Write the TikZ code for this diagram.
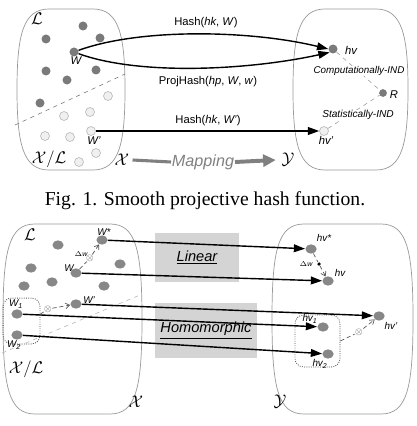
\documentclass[tikz,border=0pt]{standalone}
\usepackage{fontspec}
\setmainfont{Liberation Serif}
\setsansfont{Liberation Sans}
\usetikzlibrary{arrows.meta,shapes.geometric}

\begin{document}
\begin{tikzpicture}[x=0.025cm,y=-0.025cm,>={Triangle[length=8pt,width=5.5pt]},
 font=\sffamily\itshape\fontsize{8}{9}\selectfont,
 shp/.style={draw=black!40,line width=0.5pt},
 dk/.style={circle,fill=black!52,inner sep=0pt,minimum size=6.4pt},
 lt/.style={circle,draw=black!30,fill=black!6,inner sep=0pt,minimum size=6.4pt},
 bd/.style={ellipse,fill=black!47,inner sep=0pt,minimum width=8pt,minimum height=6.6pt},
 lab/.style={inner sep=0.5pt},
 cal/.style={inner sep=0pt,font=\fontsize{13}{13}\selectfont},
 hsh/.style={->,line width=1pt},
 ind/.style={dashed,black!40,line width=0.4pt},
 dsh/.style={densely dashed,black!65,line width=0.5pt},
 grp/.style={draw=black!70,densely dotted,rounded corners=6pt,line width=0.6pt,inner sep=0pt},
 box/.style={fill=black!17,inner sep=0pt,font=\sffamily\itshape\fontsize{10.4}{11}\selectfont},
 sm/.style={lab,font=\sffamily\itshape\fontsize{7}{8}\selectfont},
 ox/.style={inner sep=0pt,text=black!60,font=\fontsize{6}{6}\selectfont}]
\useasboundingbox (0,0) rectangle (416,426);
\foreach \l/\r/\t/\b in {17/125/9/170,293/408/9/170,3/142/224/414,272/413/224/414}
 \draw[shp] ({\l+32},\t) -- ({\r-32},\t) .. controls ({\r-6},\t) and (\r,{\t+26}) .. (\r,{(\t+\b)/2})
  .. controls (\r,{\b-26}) and ({\r-6},\b) .. ({\r-32},\b) -- ({\l+32},\b)
  .. controls ({\l+6},\b) and (\l,{\b-26}) .. (\l,{(\t+\b)/2}) .. controls (\l,{\t+26}) and ({\l+6},\t) .. cycle;

\draw[dashed,black!55,line width=0.4pt] (15,125) -- (125,74);
\foreach \p [count=\i] in {(83,26),(46,39),(100,38),(46,71),(96,70),(67,80),(40,103)}
 \node[dk] (ta\i) at \p {};
\foreach \p [count=\i] in {(108,96),(64,116),(90,112),(45,136),(70,137),(79,162),(96,153)}
 \node[lt] (tb\i) at \p {};
\node[dk] (W) at (74,52) {};
\node[lt] (Wp) at (91,131) {};
\node[dk] (hv) at (333,49) {};
\node[dk,minimum size=5.5pt] (R) at (383,93) {};
\node[lt] (hvp) at (324,131) {};

\node[cal] (L) at (37,19) {$\mathcal{L}$};
\node[lab] (wl) at (76,61) {W};
\node[lab] (wpl) at (94,141) {W'};
\node[cal] (XL) at (49,159) {$\mathcal{X}/\mathcal{L}$};
\node[cal] (X) at (122,160) {$\mathcal{X}$};
\node[cal] (Y) at (288,160) {$\mathcal{Y}$};
\node[lab,text=black!50,font=\sffamily\itshape\fontsize{11.5}{12}\selectfont] (map) at (203,162) {Mapping};
\draw[black!50,line width=2.2pt] (X.east) ++(3,0) -- (map.west);
\draw[black!50,line width=2.8pt,-{Triangle[length=9pt,width=8.5pt]}] (map.east) -- ([xshift=-4]Y.west);
\node[lab] (hvl) at (351,50) {hv};
\node[lab] (Rl) at (394,95) {R};
\node[lab] (hvpl) at (326,140) {hv'};

\draw[hsh] (W) .. controls (140,28) and (250,30) .. (hv.west);
\draw[hsh] (W) .. controls (140,76) and (250,70) .. (hv.south west);
\draw[hsh] (Wp) -- (hvp);
\node[lab] at (206,23) {\upshape Hash(\textit{hk}, \textit{W})};
\node[lab] at (208,82) {\upshape ProjHash(\textit{hp}, \textit{W}, \textit{w})};
\node[lab] at (208,121) {\upshape Hash(\textit{hk}, \textit{W'})};
\draw[ind] (hv) -- (R);
\draw[ind] (hvp) -- (R);
\node[lab,fill=white,font=\sffamily\itshape\fontsize{7}{8}\selectfont] (ci) at (359,71) {Computationally-IND};
\node[lab,fill=white,font=\sffamily\itshape\fontsize{7.2}{8}\selectfont] (si) at (358,115) {Statistically-IND};

\node[font=\rmfamily\upshape\fontsize{14}{16}\selectfont] (cap) at (205,201) {Fig. 1. Smooth projective hash function.};

\node[box,minimum width=59.6pt,minimum height=34.7pt] (lin) at (197,257.5) {\underline{Linear}};
\node[box,minimum width=72.3pt,minimum height=39pt] (hom) at (206,330.5) {\underline{Homomorphic}};
\draw[dashed,black!30,line width=0.4pt] (2,353) -- (140,295);
\foreach \p [count=\i] in {(58,245),(31,268),(120,264),(24,286),(52,282),(104,286)}
 \node[bd] (ba\i) at \p {};
\node[bd] (bW) at (76,273) {};
\node[bd] (bWs) at (102,240) {};
\node[bd] (bWp) at (76,304) {};
\node[bd] (bW1) at (17,314) {};
\node[bd] (bW2) at (17,335) {};
\node[bd] (bhvs) at (311,249) {};
\node[bd] (bhv) at (328,281) {};
\node[bd] (bhvp) at (379,316) {};
\node[bd] (bhv1) at (323,327) {};
\node[bd] (bhv2) at (328,354) {};
\node[grp,minimum width=26.2pt,minimum height=32.6pt] (g1) at (21.5,321) {};
\node[grp,minimum width=31.9pt,minimum height=36.9pt] (g2) at (317.5,341) {};

\node[cal] (bL) at (30,235) {$\mathcal{L}$};
\node[cal] (bXL) at (26,369) {$\mathcal{X}/\mathcal{L}$};
\node[cal] (bX) at (136,402) {$\mathcal{X}$};
\node[cal] (bY) at (280,402) {$\mathcal{Y}$};
\node[sm] (lW) at (69,268) {W};
\node[sm] (lWs) at (104,232) {W*};
\node[sm] (lWp) at (89,300) {W'};
\node[sm] (lW1) at (16,304) {W\textsubscript{1}};
\node[sm] (lW2) at (14,345) {W\textsubscript{2}};
\node[sm] (lhvs) at (324,238) {hv*};
\node[sm] (lhv) at (340,273) {hv};
\node[sm] (lhvp) at (391,326) {hv'};
\node[sm] (lhv1) at (310,319) {hv\textsubscript{1}};
\node[sm] (lhv2) at (320,364) {hv\textsubscript{2}};
\node[lab,font=\sffamily\itshape\fontsize{5}{5}\selectfont] (dwl) at (81,254) {$\Delta$w};
\node[lab,font=\sffamily\itshape\fontsize{5}{5}\selectfont] (dwr) at (306,264) {$\Delta$w};

\node[ox] (ox1) at (90,258) {$\otimes$};
\node[ox] (ox2) at (48,309) {$\otimes$};
\node[ox] (ox3) at (359,332) {$\otimes$};
\node[circle,fill=black,inner sep=0pt,minimum size=2.5pt] (dm) at (319,264) {};
\draw[dsh] (bW) -- (ox1);
\draw[dsh,-{Straight Barb[length=3pt,width=4pt]}] (ox1) -- (bWs);
\draw[dsh] (g1.20) -- (ox2);
\draw[dsh,-{Straight Barb[length=3pt,width=4pt]}] (ox2) -- (bWp);
\draw[dsh] (bhvs) -- (dm);
\draw[dsh,-{Straight Barb[length=3pt,width=4pt]}] (dm) -- (bhv);
\draw[dsh] (g2.east) -- (ox3);
\draw[dsh,-{Straight Barb[length=3pt,width=4pt]}] (ox3) -- (bhvp);

\draw[hsh] (bWs) -- (bhvs);
\draw[hsh] (bW) -- (bhv);
\draw[hsh] (bWp) -- (bhvp);
\draw[hsh] (bW1) -- (bhv1);
\draw[hsh] (bW2) -- (bhv2);
\end{tikzpicture}
\end{document}
